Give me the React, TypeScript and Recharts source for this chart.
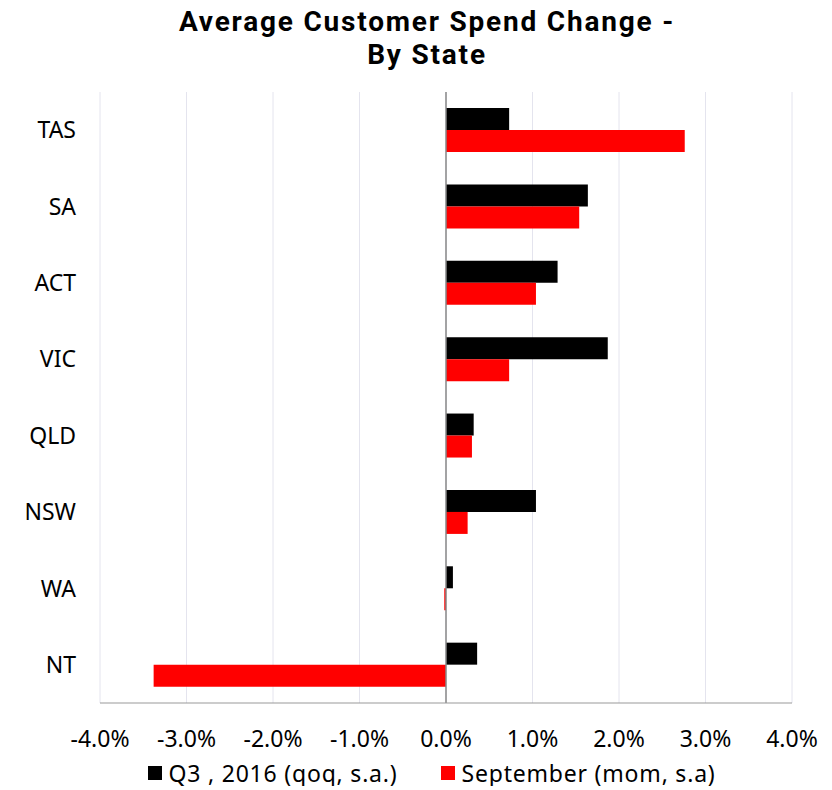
import React from 'react';
import { BarChart, Bar, XAxis, YAxis, CartesianGrid, Legend, ReferenceLine } from 'recharts';

// 주 단위 데이터 (%)
const states = ['TAS', 'SA', 'ACT', 'VIC', 'QLD', 'NSW', 'WA', 'NT'];
const q3Values = [0.73, 1.64, 1.29, 1.87, 0.32, 1.04, 0.08, 0.36];
const septValues = [2.76, 1.54, 1.04, 0.73, 0.3, 0.25, -0.02, -3.38];
const xTicks = [-4, -3, -2, -1, 0, 1, 2, 3, 4];

const Q3_NAME = 'Q3 , 2016 (qoq, s.a.)';
const SEPT_NAME = 'September (mom, s.a)';

const chartData = states.map((state, i) => ({
  state,
  q3: q3Values[i],
  sept: septValues[i],
}));

const FONT = '"Noto Sans", "Open Sans", sans-serif';

const LegendContent = () => (
  <div
    style={{
      display: 'flex',
      justifyContent: 'center',
      gap: 44,
      fontFamily: FONT,
      fontSize: 23,
      lineHeight: '26px',
      letterSpacing: 0.8,
      color: '#000',
      paddingLeft: 64,
    }}
  >
    {[
      { name: Q3_NAME, color: '#000000' },
      { name: SEPT_NAME, color: '#ff0000' },
    ].map(item => (
      <div key={item.name} style={{ display: 'flex', alignItems: 'center' }}>
        <span style={{ width: 14, height: 14, background: item.color, marginRight: 6, display: 'inline-block' }} />
        <span>{item.name}</span>
      </div>
    ))}
  </div>
);

export default function App() {
  return (
    <div style={{ position: 'relative', width: 816, height: 778, background: '#fff' }}>
      <div
        style={{
          position: 'absolute',
          top: -3,
          left: 0,
          width: 838,
          textAlign: 'center',
          fontFamily: 'Roboto, sans-serif',
          fontWeight: 700,
          fontSize: 28,
          lineHeight: '33px',
          letterSpacing: 1.8,
          color: '#000',
        }}
      >
        Average Customer Spend Change -<br />By State
      </div>
      <BarChart
        width={816}
        height={778}
        data={chartData}
        layout="vertical"
        margin={{ top: 84, right: 32, bottom: 0, left: 0 }}
        barCategoryGap="21%"
        barGap={0}
      >
        <CartesianGrid horizontal={false} stroke="#e4e4ee" />
        <XAxis
          type="number"
          domain={[-4, 4]}
          ticks={xTicks}
          tickFormatter={(v: number) => `${v.toFixed(1)}%`}
          tick={{ fontFamily: FONT, fontSize: 23, fill: '#000' }}
          stroke="#999"
          tickLine={false}
          tickMargin={22}
          height={57}
        />
        <YAxis
          type="category"
          dataKey="state"
          width={92}
          axisLine={false}
          tickLine={false}
          tick={{ fontFamily: FONT, fontSize: 23, fill: '#000' }}
          tickMargin={18}
        />
        <ReferenceLine x={0} stroke="#888" strokeWidth={1.5} />
        <Bar dataKey="q3" name={Q3_NAME} fill="#000000" isAnimationActive={false} />
        <Bar dataKey="sept" name={SEPT_NAME} fill="#ff0000" isAnimationActive={false} />
        <Legend verticalAlign="bottom" content={<LegendContent />} wrapperStyle={{ height: 26 }} />
      </BarChart>
    </div>
  );
}
